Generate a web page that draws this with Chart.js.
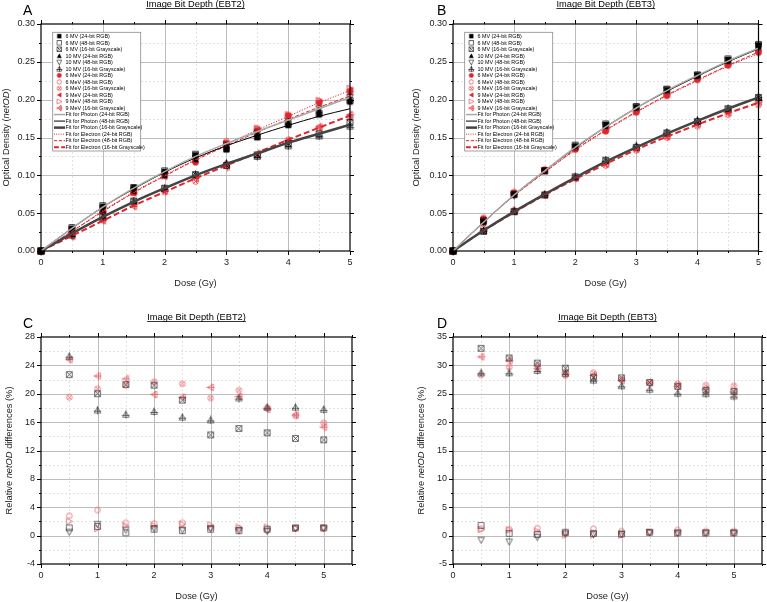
<!DOCTYPE html>
<html>
<head>
<meta charset="utf-8">
<script src="https://cdn.jsdelivr.net/npm/chart.js@4.4.1/dist/chart.umd.min.js"></script>
<style>
  html, body { margin: 0; padding: 0; background: #fff; }
  #wrap { position: relative; width: 767px; height: 602px; overflow: hidden; }
  canvas { position: absolute; }
</style>
</head>
<body>
<div id="wrap">
  <canvas id="pA" width="384" height="300" style="left:0;top:0"></canvas>
  <canvas id="pB" width="383" height="300" style="left:384px;top:0"></canvas>
  <canvas id="pC" width="384" height="302" style="left:0;top:300px"></canvas>
  <canvas id="pD" width="383" height="302" style="left:384px;top:300px"></canvas>
</div>
<script>
/* ---------- data ---------- */
const doses = [0, 0.5, 1, 1.5, 2, 2.5, 3, 3.5, 4, 4.5, 5];
const diffDoses = [0.5, 1, 1.5, 2, 2.5, 3, 3.5, 4, 4.5, 5];

const pointLabels = [
  "6 MV (24-bit RGB)", "6 MV (48-bit RGB)", "6 MV (16-bit Grayscale)",
  "10 MV (24-bit RGB)", "10 MV (48-bit RGB)", "10 MV (16-bit Grayscale)",
  "6 MeV (24-bit RGB)", "6 MeV (48-bit RGB)", "6 MeV (16-bit Grayscale)",
  "9 MeV (24-bit RGB)", "9 MeV (48-bit RGB)", "9 MeV (16-bit Grayscale)"
];
const fitLabels = [
  "Fit for Photon (24-bit RGB)", "Fit for Photon (48-bit RGB)", "Fit for Photon (16-bit Grayscale)",
  "Fit for Electron (24-bit RGB)", "Fit for Electron (48-bit RGB)", "Fit for Electron (16-bit Grayscale)"
];

// netOD, EBT2 (same order as pointLabels)
const ebt2Points = [
  [0, 0.030, 0.059, 0.084, 0.105, 0.127, 0.134, 0.150, 0.166, 0.180, 0.197],
  [0, 0.031, 0.060, 0.084, 0.106, 0.128, 0.135, 0.151, 0.168, 0.182, 0.199],
  [0, 0.023, 0.047, 0.066, 0.083, 0.101, 0.113, 0.127, 0.142, 0.155, 0.170],
  [0, 0.028, 0.055, 0.079, 0.100, 0.121, 0.139, 0.155, 0.170, 0.186, 0.201],
  [0, 0.028, 0.056, 0.080, 0.101, 0.122, 0.140, 0.156, 0.171, 0.188, 0.203],
  [0, 0.021, 0.045, 0.066, 0.083, 0.101, 0.116, 0.125, 0.139, 0.152, 0.165],
  [0, 0.026, 0.052, 0.077, 0.100, 0.117, 0.143, 0.160, 0.179, 0.196, 0.210],
  [0, 0.027, 0.054, 0.078, 0.102, 0.119, 0.145, 0.162, 0.180, 0.198, 0.212],
  [0, 0.021, 0.041, 0.061, 0.078, 0.092, 0.115, 0.127, 0.147, 0.163, 0.177],
  [0, 0.025, 0.051, 0.076, 0.098, 0.119, 0.140, 0.160, 0.178, 0.197, 0.213],
  [0, 0.026, 0.052, 0.077, 0.099, 0.121, 0.142, 0.162, 0.180, 0.199, 0.215],
  [0, 0.019, 0.040, 0.059, 0.079, 0.096, 0.111, 0.129, 0.146, 0.164, 0.180]
];
const ebt2Fits = [
  [0, 0.030, 0.058, 0.083, 0.105, 0.125, 0.142, 0.158, 0.173, 0.188, 0.203],
  [0, 0.030, 0.058, 0.082, 0.104, 0.123, 0.139, 0.153, 0.166, 0.178, 0.188],
  [0, 0.023, 0.045, 0.065, 0.083, 0.100, 0.115, 0.129, 0.143, 0.155, 0.167],
  [0, 0.026, 0.053, 0.078, 0.100, 0.121, 0.141, 0.160, 0.178, 0.196, 0.212],
  [0, 0.026, 0.052, 0.077, 0.099, 0.120, 0.139, 0.157, 0.174, 0.190, 0.205],
  [0, 0.020, 0.040, 0.060, 0.078, 0.096, 0.113, 0.130, 0.147, 0.163, 0.179]
];

// netOD, EBT3
const ebt3Points = [
  [0, 0.039, 0.075, 0.106, 0.139, 0.167, 0.190, 0.213, 0.232, 0.253, 0.272],
  [0, 0.040, 0.075, 0.106, 0.140, 0.168, 0.191, 0.214, 0.233, 0.254, 0.273],
  [0, 0.026, 0.052, 0.074, 0.098, 0.120, 0.137, 0.156, 0.171, 0.188, 0.203],
  [0, 0.038, 0.074, 0.106, 0.137, 0.165, 0.189, 0.212, 0.231, 0.251, 0.270],
  [0, 0.038, 0.073, 0.106, 0.137, 0.166, 0.190, 0.213, 0.232, 0.252, 0.271],
  [0, 0.027, 0.053, 0.075, 0.098, 0.120, 0.139, 0.157, 0.173, 0.188, 0.204],
  [0, 0.043, 0.077, 0.107, 0.134, 0.158, 0.183, 0.205, 0.226, 0.245, 0.262],
  [0, 0.044, 0.078, 0.108, 0.135, 0.160, 0.185, 0.206, 0.228, 0.247, 0.264],
  [0, 0.031, 0.054, 0.075, 0.096, 0.113, 0.133, 0.150, 0.165, 0.180, 0.193],
  [0, 0.040, 0.075, 0.105, 0.135, 0.160, 0.185, 0.207, 0.228, 0.247, 0.264],
  [0, 0.040, 0.076, 0.106, 0.135, 0.160, 0.185, 0.208, 0.229, 0.248, 0.265],
  [0, 0.027, 0.052, 0.074, 0.096, 0.115, 0.135, 0.151, 0.168, 0.183, 0.197]
];
const ebt3Fits = [
  [0, 0.038, 0.074, 0.106, 0.137, 0.164, 0.189, 0.212, 0.232, 0.251, 0.268],
  [0, 0.038, 0.074, 0.106, 0.136, 0.164, 0.189, 0.211, 0.231, 0.250, 0.267],
  [0, 0.027, 0.052, 0.075, 0.097, 0.118, 0.137, 0.155, 0.172, 0.188, 0.203],
  [0, 0.038, 0.073, 0.104, 0.133, 0.159, 0.183, 0.205, 0.225, 0.244, 0.261],
  [0, 0.038, 0.073, 0.104, 0.134, 0.160, 0.184, 0.206, 0.226, 0.245, 0.263],
  [0, 0.027, 0.051, 0.074, 0.095, 0.115, 0.134, 0.151, 0.167, 0.182, 0.196]
];

// relative netOD differences (%) vs 24-bit RGB
const diffLabels = [
  "6 MV (48-bit RGB)", "6 MV (16-bit Grayscale)", "10 MV (48-bit RGB)", "10 MV (16-bit Grayscale)",
  "6 MeV (48-bit RGB)", "6 MeV (16-bit Grayscale)", "9 MeV (48-bit RGB)", "9 MeV (16-bit Grayscale)"
];
const ebt2Diff = [
  [1.1, 1.3, 0.4, 0.9, 0.7, 0.9, 0.7, 0.9, 1.1, 1.1],
  [22.7, 20.0, 21.3, 21.2, 19.1, 14.2, 15.1, 14.5, 13.7, 13.5],
  [0.5, 1.6, 0.8, 1.0, 0.8, 1.0, 0.7, 0.6, 1.0, 1.0],
  [25.3, 17.7, 17.1, 17.5, 16.7, 16.3, 19.4, 18.1, 18.1, 17.8],
  [2.8, 3.6, 1.8, 1.7, 1.8, 1.1, 1.0, 0.8, 1.0, 1.1],
  [19.5, 20.7, 21.2, 21.7, 21.4, 19.4, 20.5, 18.0, 16.9, 15.9],
  [2.0, 1.0, 1.4, 1.4, 1.6, 1.5, 1.2, 1.2, 1.0, 1.1],
  [24.8, 22.5, 22.1, 19.9, 19.5, 20.9, 19.6, 17.8, 17.0, 15.3]
];
const ebt3Diff = [
  [1.8, 0.4, 0.2, 0.6, 0.4, 0.3, 0.6, 0.5, 0.5, 0.5],
  [33.0, 31.3, 30.4, 29.5, 27.9, 27.8, 27.0, 26.3, 25.6, 25.4],
  [-0.8, -1.1, -0.3, 0.3, 0.2, 0.2, 0.5, 0.4, 0.4, 0.4],
  [28.7, 28.7, 29.1, 28.6, 27.4, 26.4, 25.8, 25.1, 25.0, 24.6],
  [1.2, 1.1, 1.3, 0.5, 1.2, 0.8, 0.6, 1.0, 0.8, 0.8],
  [28.3, 29.7, 30.0, 28.2, 28.7, 27.5, 27.0, 26.8, 26.5, 26.4],
  [1.1, 1.0, 0.8, 0.1, 0.1, 0.1, 0.6, 0.4, 0.4, 0.5],
  [31.5, 30.8, 29.4, 28.7, 28.2, 27.3, 26.9, 26.3, 25.8, 25.3]
];

/* ---------- styles ---------- */
const FONT = '"Liberation Sans", Arial, sans-serif';
const RED = "#e3242b";
const SOFT_RED = "#e65a60";
const DARK = "#3c3c3c";

const pointMarkers = ["sqFill", "sq", "sqX", "triUpFill", "triDown", "triUpCross",
                      "circFill", "circ", "circX", "triLeftFill", "triRight", "triLeftCross"];
const diffMarkers = ["sq", "sqX", "triDown", "triUpCross", "circ", "circX", "triRight", "triLeftCross"];

const fitColors = ["#a8a8a8", "#000000", "#444444", RED, RED, RED];
const fitWidths = [1.5, 1, 2.5, 1, 1, 2];
const fitDashes = [[], [], [], [1.2, 1.6], [4, 2], [6, 3]];

function makeMarker(kind, color) {
  const c = document.createElement("canvas");
  c.width = 9; c.height = 9;
  const g = c.getContext("2d");
  g.strokeStyle = color; g.fillStyle = color; g.lineWidth = 0.75;
  const m = 4.5, r = 2.8;
  const poly = (pts) => {
    g.beginPath(); g.moveTo(pts[0][0], pts[0][1]);
    for (let i = 1; i < pts.length; i++) g.lineTo(pts[i][0], pts[i][1]);
    g.closePath();
  };
  const line = (x1, y1, x2, y2) => { g.beginPath(); g.moveTo(x1, y1); g.lineTo(x2, y2); g.stroke(); };
  const up = [[m, m - r - 0.5], [m + r + 0.4, m + r], [m - r - 0.4, m + r]];
  const left = [[m - r - 0.5, m], [m + r, m - r - 0.4], [m + r, m + r + 0.4]];

  switch (kind) {
    case "sqFill": g.fillRect(m - r, m - r, 2 * r, 2 * r); break;
    case "sq": g.strokeRect(m - r, m - r, 2 * r, 2 * r); break;
    case "sqX":
      g.strokeRect(m - r, m - r, 2 * r, 2 * r);
      line(m - r, m - r, m + r, m + r); line(m + r, m - r, m - r, m + r); break;
    case "triUpFill": poly(up); g.fill(); break;
    case "triDown": poly([[m, m + r + 0.5], [m + r + 0.4, m - r], [m - r - 0.4, m - r]]); g.stroke(); break;
    case "triUpCross":
      poly(up); g.stroke();
      line(m, 0.5, m, 8.5); line(m - r - 1, m + 1, m + r + 1, m + 1); break;
    case "circFill": g.beginPath(); g.arc(m, m, r + 0.3, 0, Math.PI * 2); g.fill(); break;
    case "circ": g.beginPath(); g.arc(m, m, r, 0, Math.PI * 2); g.stroke(); break;
    case "circX":
      g.beginPath(); g.arc(m, m, r, 0, Math.PI * 2); g.stroke();
      line(m - 2, m - 2, m + 2, m + 2); line(m + 2, m - 2, m - 2, m + 2); break;
    case "triLeftFill": poly(left); g.fill(); break;
    case "triRight": poly([[m + r + 0.5, m], [m - r, m - r - 0.4], [m - r, m + r + 0.4]]); g.stroke(); break;
    case "triLeftCross":
      poly(left); g.stroke();
      line(0.5, m, 8.5, m); line(m + 1, m - r - 1, m + 1, m + r + 1); break;
  }
  return c;
}

/* ---------- decoration plugin: grid, frame, ticks, titles, legend ---------- */
function decor(cfg) {
  return {
    id: "decor",
    beforeDraw(chart) {
      const ctx = chart.ctx;
      ctx.save();
      ctx.fillStyle = "#fff";
      ctx.fillRect(0, 0, chart.width, chart.height);
      ctx.restore();
    },
    beforeDatasetsDraw(chart) {
      const { ctx, chartArea: a, scales: { x, y } } = chart;
      ctx.save();
      ctx.lineWidth = 1;
      // minor grid
      ctx.strokeStyle = "#e2e2e2";
      ctx.setLineDash([2, 2]);
      for (const v of cfg.xMinor) {
        const px = Math.round(x.getPixelForValue(v)) + 0.5;
        if (px <= a.left + 1 || px >= a.right - 1) continue;
        ctx.beginPath(); ctx.moveTo(px, a.top); ctx.lineTo(px, a.bottom); ctx.stroke();
      }
      for (const v of cfg.yMinor) {
        const py = Math.round(y.getPixelForValue(v)) + 0.5;
        if (py <= a.top + 1 || py >= a.bottom - 1) continue;
        ctx.beginPath(); ctx.moveTo(a.left, py); ctx.lineTo(a.right, py); ctx.stroke();
      }
      // major grid
      ctx.setLineDash([]);
      ctx.strokeStyle = "#bdbdbd";
      for (const t of x.ticks) {
        const px = Math.round(x.getPixelForValue(t.value)) + 0.5;
        if (px <= a.left + 1 || px >= a.right - 1) continue;
        ctx.beginPath(); ctx.moveTo(px, a.top); ctx.lineTo(px, a.bottom); ctx.stroke();
      }
      for (const t of y.ticks) {
        const py = Math.round(y.getPixelForValue(t.value)) + 0.5;
        if (py <= a.top + 1 || py >= a.bottom - 1) continue;
        ctx.beginPath(); ctx.moveTo(a.left, py); ctx.lineTo(a.right, py); ctx.stroke();
      }
      ctx.restore();
    },
    afterDatasetsDraw(chart) {
      const { ctx, chartArea: a, scales: { x, y } } = chart;
      ctx.save();
      // frame
      ctx.strokeStyle = "#000";
      ctx.lineWidth = 1.2;
      ctx.strokeRect(a.left, a.top, a.right - a.left, a.bottom - a.top);
      // ticks on all four sides, pointing out
      ctx.lineWidth = 1;
      const xt = (v, len) => {
        const px = Math.round(x.getPixelForValue(v)) + 0.5;
        ctx.beginPath();
        ctx.moveTo(px, a.bottom); ctx.lineTo(px, a.bottom + len);
        ctx.moveTo(px, a.top); ctx.lineTo(px, a.top - len);
        ctx.stroke();
      };
      const yt = (v, len) => {
        const py = Math.round(y.getPixelForValue(v)) + 0.5;
        ctx.beginPath();
        ctx.moveTo(a.left, py); ctx.lineTo(a.left - len, py);
        ctx.moveTo(a.right, py); ctx.lineTo(a.right + len, py);
        ctx.stroke();
      };
      x.ticks.forEach(t => xt(t.value, 4));
      cfg.xMinor.forEach(v => xt(v, 2));
      y.ticks.forEach(t => yt(t.value, 4));
      cfg.yMinor.forEach(v => yt(v, 2));

      const cx = (a.left + a.right) / 2;
      ctx.fillStyle = "#000";
      ctx.strokeStyle = "#000";
      // panel title, underlined
      ctx.font = "9.3px " + FONT;
      ctx.textAlign = "center";
      ctx.textBaseline = "alphabetic";
      ctx.fillText(cfg.title, cx, cfg.titleY);
      const tw = ctx.measureText(cfg.title).width;
      ctx.lineWidth = 0.8;
      ctx.beginPath();
      ctx.moveTo(cx - tw / 2, cfg.titleY + 1.5); ctx.lineTo(cx + tw / 2, cfg.titleY + 1.5);
      ctx.stroke();
      // letter
      ctx.font = "14px " + FONT;
      ctx.textAlign = "left";
      ctx.fillText(cfg.letter, cfg.letterX, cfg.letterY);
      // x title
      ctx.font = "9.3px " + FONT;
      ctx.textAlign = "center";
      ctx.textBaseline = "middle";
      ctx.fillStyle = "#222";
      ctx.fillText("Dose (Gy)", cx, cfg.xTitleY);
      // y title with italic part
      const parts = cfg.yTitle;
      const fonts = ["9.3px " + FONT, "italic 9.3px " + FONT, "9.3px " + FONT];
      let total = 0;
      const widths = parts.map((p, i) => { ctx.font = fonts[i]; const w = ctx.measureText(p).width; total += w; return w; });
      ctx.translate(cfg.yTitleX, (a.top + a.bottom) / 2);
      ctx.rotate(-Math.PI / 2);
      ctx.textAlign = "left";
      let off = -total / 2;
      parts.forEach((p, i) => { ctx.font = fonts[i]; ctx.fillText(p, off, 0); off += widths[i]; });
      ctx.restore();

      if (cfg.legend) drawLegend(chart);
    }
  };
}

function drawLegend(chart) {
  const { ctx, chartArea: a } = chart;
  const left = a.left + 11.7, top = 32.3, w = 88, h = 118.7, rowH = 6.53;
  ctx.save();
  ctx.fillStyle = "#fff";
  ctx.fillRect(left, top, w, h);
  ctx.strokeStyle = "#8a8a8a";
  ctx.lineWidth = 0.8;
  ctx.strokeRect(left, top, w, h);
  ctx.font = "5.4px " + FONT;
  ctx.textBaseline = "middle";
  ctx.textAlign = "left";
  chart.data.datasets.forEach((ds, i) => {
    const cy = top + 3.9 + i * rowH;
    if (ds.showLine) {
      ctx.strokeStyle = ds.borderColor;
      ctx.lineWidth = ds.borderWidth;
      ctx.setLineDash(ds.borderDash.length ? ds.borderDash.map(d => d * 0.8) : []);
      ctx.beginPath(); ctx.moveTo(left + 1.3, cy); ctx.lineTo(left + 12.3, cy); ctx.stroke();
      ctx.setLineDash([]);
    } else {
      ctx.drawImage(ds.pointStyle, left + 6.6 - 3.5, cy - 3.5, 7, 7);
    }
    ctx.fillStyle = "#000";
    ctx.fillText(ds.label, left + 12.8, cy + 0.3);
  });
  ctx.restore();
}

/* ---------- chart builder ---------- */
function buildDatasets(p) {
  if (p.points) {
    const pts = p.points.map((row, i) => ({
      label: pointLabels[i],
      data: doses.map((d, j) => ({ x: d, y: row[j] })),
      showLine: false,
      pointStyle: makeMarker(pointMarkers[i], i < 6 ? "#000" : RED),
      pointRadius: 4,
      order: 1,
      clip: false
    }));
    const fits = p.fits.map((row, i) => ({
      label: fitLabels[i],
      data: doses.map((d, j) => ({ x: d, y: row[j] })),
      showLine: true,
      pointRadius: 0,
      borderColor: fitColors[i],
      borderWidth: fitWidths[i],
      borderDash: fitDashes[i],
      tension: 0.35,
      fill: false,
      order: 0
    }));
    return pts.concat(fits);
  }
  return p.diffs.map((row, i) => ({
    label: diffLabels[i],
    data: diffDoses.map((d, j) => ({ x: d, y: row[j] })),
    showLine: false,
    pointStyle: makeMarker(diffMarkers[i], i < 4 ? DARK : SOFT_RED),
    pointRadius: 4,
    clip: false
  }));
}

function makeChart(p) {
  const el = document.getElementById(p.id);
  const tickFont = { family: FONT, size: 9 };
  new Chart(el.getContext("2d"), {
    type: "scatter",
    data: { datasets: buildDatasets(p) },
    options: {
      responsive: false,
      animation: false,
      devicePixelRatio: 1,
      events: [],
      layout: { padding: { left: 0, right: p.padR, top: p.padT, bottom: 0 } },
      plugins: { legend: { display: false }, tooltip: { enabled: false } },
      scales: {
        x: {
          type: "linear", min: 0, max: p.xMax,
          grid: { display: false, drawTicks: false },
          border: { display: false },
          ticks: { stepSize: 1, includeBounds: false, padding: 6, color: "#222", font: tickFont, maxRotation: 0 },
          afterFit(s) { s.height = p.xH; }
        },
        y: {
          type: "linear", min: p.yMin, max: p.yMax,
          grid: { display: false, drawTicks: false },
          border: { display: false },
          ticks: {
            stepSize: p.yStep, padding: 6, color: "#222", font: tickFont,
            callback: v => p.yDec ? Number(v).toFixed(p.yDec) : Math.round(v)
          },
          afterFit(s) { s.width = p.yW; }
        }
      }
    },
    plugins: [decor(p)]
  });
}

const halves = [0.5, 1.5, 2.5, 3.5, 4.5];
const odMinor = [0.025, 0.075, 0.125, 0.175, 0.225, 0.275];

makeChart({
  id: "pA", points: ebt2Points, fits: ebt2Fits, legend: true,
  title: "Image Bit Depth (EBT2)", letter: "A", yTitle: ["Optical Density (", "netOD", ")"],
  xMax: 5, yMin: 0, yMax: 0.3, yStep: 0.05, yDec: 2, xMinor: halves, yMinor: odMinor,
  yW: 41, xH: 49, padR: 34, padT: 24, titleY: 7, letterX: 23, letterY: 15, yTitleX: 6, xTitleY: 283
});
makeChart({
  id: "pB", points: ebt3Points, fits: ebt3Fits, legend: true,
  title: "Image Bit Depth (EBT3)", letter: "B", yTitle: ["Optical Density (", "netOD", ")"],
  xMax: 5, yMin: 0, yMax: 0.3, yStep: 0.05, yDec: 2, xMinor: halves, yMinor: odMinor,
  yW: 69, xH: 49, padR: 5, padT: 24, titleY: 7, letterX: 53, letterY: 15, yTitleX: 32, xTitleY: 283
});
makeChart({
  id: "pC", diffs: ebt2Diff, legend: false,
  title: "Image Bit Depth (EBT2)", letter: "C", yTitle: ["Relative ", "netOD", " differences (%)"],
  xMax: 5.5, yMin: -4, yMax: 28, yStep: 4, yDec: 0, xMinor: halves.concat([5.5]),
  yMinor: [-2, 2, 6, 10, 14, 18, 22, 26],
  yW: 41, xH: 38, padR: 32, padT: 37, titleY: 20, letterX: 23, letterY: 28, yTitleX: 9, xTitleY: 296
});
makeChart({
  id: "pD", diffs: ebt3Diff, legend: false,
  title: "Image Bit Depth (EBT3)", letter: "D", yTitle: ["Relative ", "netOD", " differences (%)"],
  xMax: 5.5, yMin: -5, yMax: 35, yStep: 5, yDec: 0, xMinor: halves.concat([5.5]),
  yMinor: [-2.5, 2.5, 7.5, 12.5, 17.5, 22.5, 27.5, 32.5],
  yW: 69, xH: 38, padR: 5, padT: 37, titleY: 20, letterX: 53, letterY: 28, yTitleX: 37, xTitleY: 296
});
</script>
</body>
</html>
